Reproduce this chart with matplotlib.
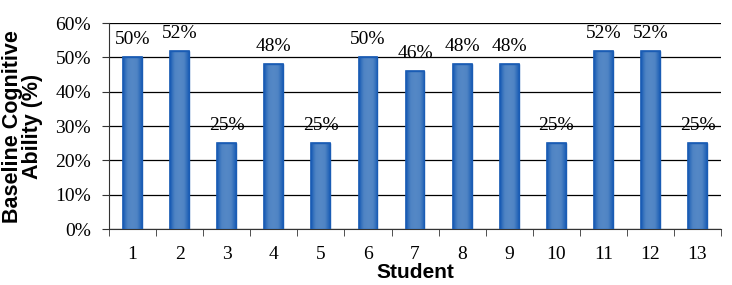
import matplotlib
matplotlib.use("Agg")
import matplotlib.pyplot as plt
import numpy as np
from matplotlib.colors import LinearSegmentedColormap

students = ["1", "2", "3", "4", "5", "6", "7", "8", "9", "10", "11", "12", "13"]
ability = [50, 52, 25, 48, 25, 50, 46, 48, 48, 25, 52, 52, 25]
yticks = [0, 10, 20, 30, 40, 50, 60]

fig = plt.figure(figsize=(7.32, 2.85), dpi=100)
ax = fig.add_axes([0.149, 0.196, 0.836, 0.723])

x = np.arange(1, len(students) + 1)
bars = ax.bar(x, ability, width=0.4, color="#4a7ec0", edgecolor="#1a5cb4", linewidth=1.2, zorder=3)

cmap = LinearSegmentedColormap.from_list("g", ["#1d5fb6", "#4f84c4", "#5588c6", "#4f84c4", "#1d5fb6"])
grad = np.linspace(0, 1, 64).reshape(1, -1)
for b in bars:
    x0, w, h = b.get_x(), b.get_width(), b.get_height()
    im = ax.imshow(grad, cmap=cmap, extent=[x0, x0 + w, 0, h], aspect="auto", zorder=3.5)
    im.set_clip_path(b)
    ax.add_patch(plt.Rectangle((x0, 0), w, h, fill=False, edgecolor="#1a5cb4", linewidth=1.0, zorder=4))

for xi, v in zip(x, ability):
    ax.annotate(f"{v}%", (xi, v), xytext=(0, 6.5), textcoords="offset points",
                ha="center", va="bottom", fontsize=14, family="Liberation Serif", zorder=5)

ax.set_xlim(0.5, len(students) + 0.5)
ax.set_ylim(0, 60)
ax.set_yticks(yticks)
ax.set_yticklabels([f"{t}%" for t in yticks], family="Liberation Serif", fontsize=14)
ax.set_xticks(x)
ax.set_xticklabels(students, family="Liberation Serif", fontsize=14)
ax.set_xticks(np.arange(0.5, len(students) + 1, 1), minor=True)
ax.tick_params(axis="x", which="major", length=0, pad=12)
ax.tick_params(axis="x", which="minor", length=5, direction="out", color="#333333")
ax.tick_params(axis="y", length=5, direction="out", color="#333333", pad=8)

ax.grid(axis="y", color="black", linewidth=0.9, zorder=0)
ax.set_axisbelow(True)
for s in ["top", "right"]:
    ax.spines[s].set_visible(False)
ax.spines["left"].set_color("#333333")
ax.spines["bottom"].set_color("#333333")

ax.set_xlabel("Student", family="Liberation Sans", fontweight="bold", fontsize=15, labelpad=0)
ax.set_ylabel("Baseline Cognitive\nAbility (%)", family="Liberation Sans", fontweight="bold",
              fontsize=15.5, linespacing=0.95, labelpad=9)

fig.savefig("out.png", dpi=100)
